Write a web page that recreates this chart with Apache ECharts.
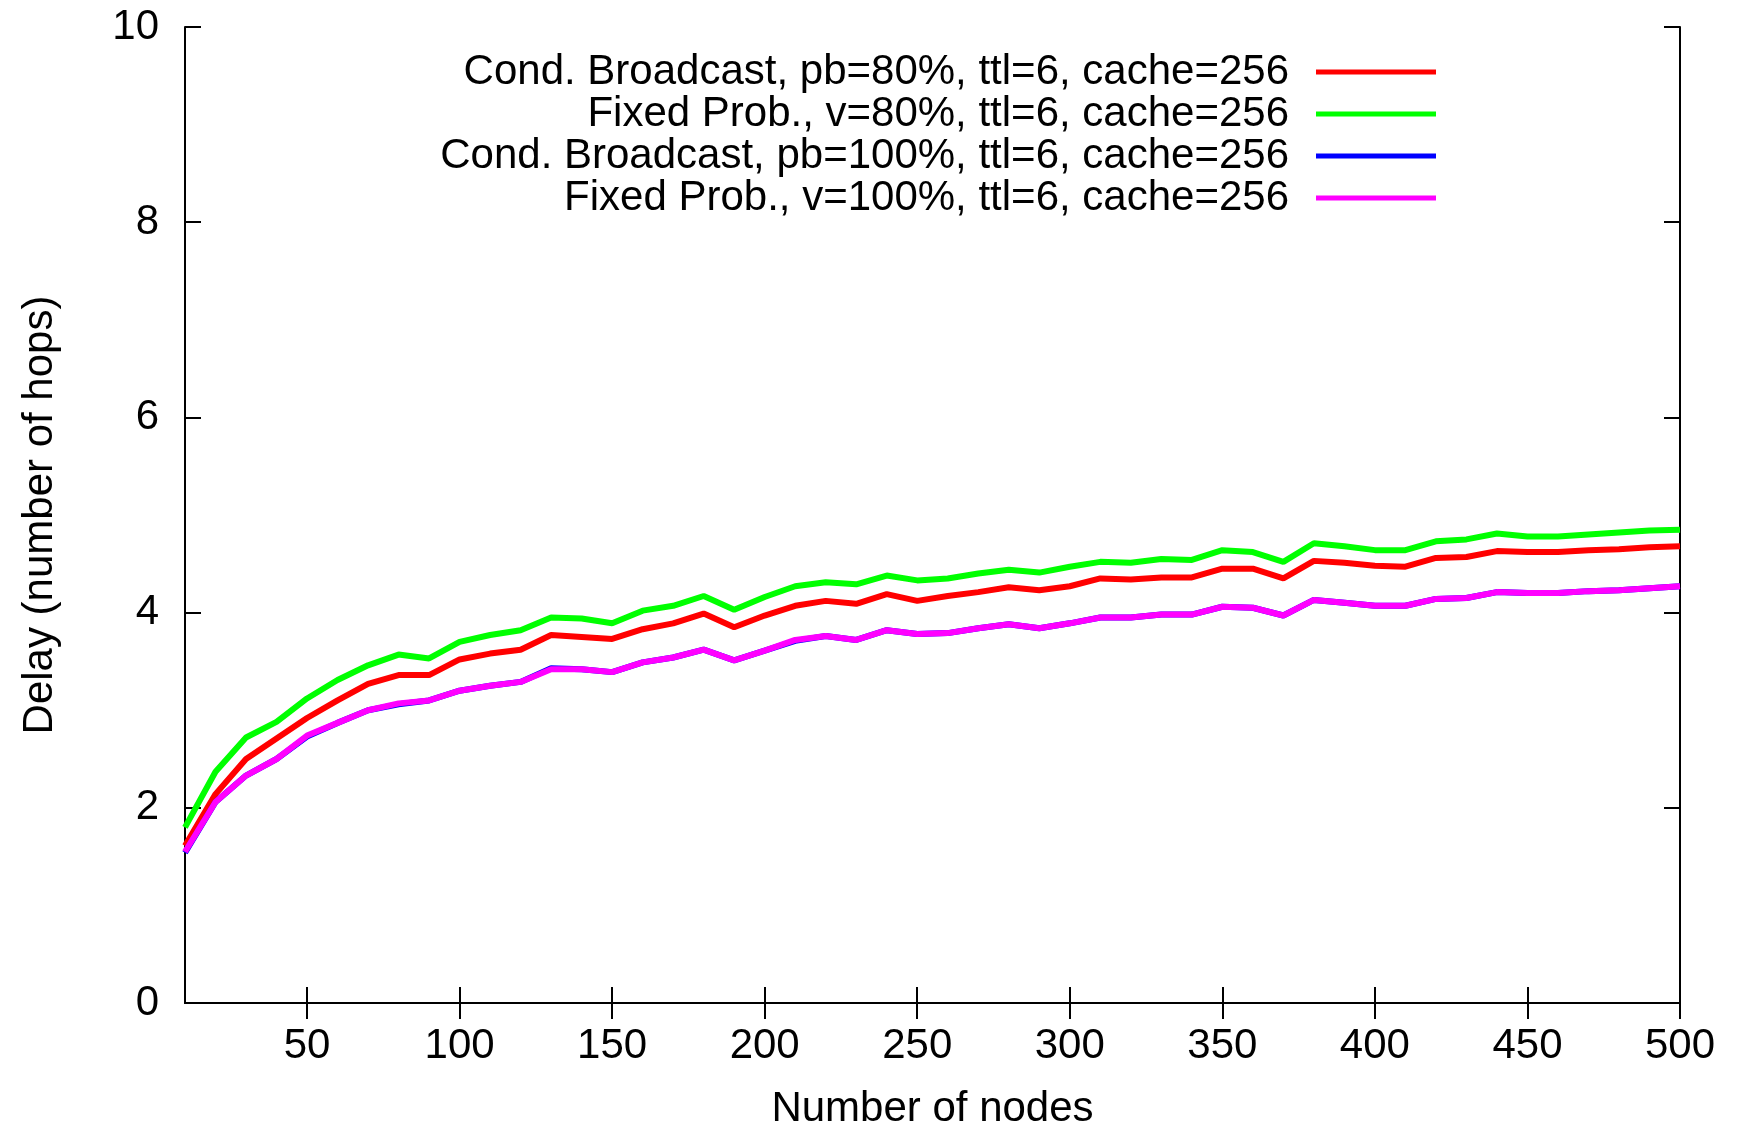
<!DOCTYPE html>
<html lang="en">
<head>
    <meta charset="UTF-8">
    <title>Delay vs number of nodes</title>
    <script src="https://cdn.jsdelivr.net/npm/echarts@6/dist/echarts.min.js"></script>
    <style>
        html, body { margin: 0; padding: 0; background: #fff; }
    </style>
</head>
<body>
<div id="myLineContainer" style="width: 1739px; height: 1129px;"></div>
<script type="text/javascript">
    // number of nodes, 10..500 step 10
    var nodes = [10, 20, 30, 40, 50, 60, 70, 80, 90, 100,
        110, 120, 130, 140, 150, 160, 170, 180, 190, 200,
        210, 220, 230, 240, 250, 260, 270, 280, 290, 300,
        310, 320, 330, 340, 350, 360, 370, 380, 390, 400,
        410, 420, 430, 440, 450, 460, 470, 480, 490, 500];

    var condBroadcast80 = [1.61, 2.14, 2.50, 2.71, 2.92, 3.10, 3.27, 3.36, 3.36, 3.52,
        3.58, 3.62, 3.77, 3.75, 3.73, 3.83, 3.89, 3.99, 3.85, 3.97,
        4.07, 4.12, 4.09, 4.19, 4.12, 4.17, 4.21, 4.26, 4.23, 4.27,
        4.35, 4.34, 4.36, 4.36, 4.45, 4.45, 4.35, 4.53, 4.51, 4.48,
        4.47, 4.56, 4.57, 4.63, 4.62, 4.62, 4.64, 4.65, 4.67, 4.68];

    var fixedProb80 = [1.80, 2.37, 2.72, 2.88, 3.12, 3.31, 3.46, 3.57, 3.53, 3.70,
        3.77, 3.82, 3.95, 3.94, 3.89, 4.02, 4.07, 4.17, 4.03, 4.16,
        4.27, 4.31, 4.29, 4.38, 4.33, 4.35, 4.40, 4.44, 4.41, 4.47,
        4.52, 4.51, 4.55, 4.54, 4.64, 4.62, 4.52, 4.71, 4.68, 4.64,
        4.64, 4.73, 4.75, 4.81, 4.78, 4.78, 4.80, 4.82, 4.84, 4.85];

    var condBroadcast100 = [1.54, 2.06, 2.33, 2.50, 2.73, 2.87, 3.00, 3.06, 3.10, 3.20,
        3.25, 3.29, 3.43, 3.42, 3.39, 3.49, 3.54, 3.62, 3.51, 3.61,
        3.71, 3.76, 3.72, 3.82, 3.78, 3.79, 3.84, 3.88, 3.84, 3.89,
        3.95, 3.95, 3.98, 3.98, 4.06, 4.05, 3.97, 4.13, 4.10, 4.07,
        4.07, 4.14, 4.15, 4.21, 4.20, 4.20, 4.22, 4.23, 4.25, 4.27];

    var fixedProb100 = [1.55, 2.06, 2.33, 2.50, 2.74, 2.87, 3.00, 3.07, 3.10, 3.20,
        3.25, 3.29, 3.42, 3.42, 3.39, 3.49, 3.54, 3.62, 3.51, 3.61,
        3.72, 3.76, 3.72, 3.82, 3.78, 3.79, 3.84, 3.88, 3.84, 3.89,
        3.95, 3.95, 3.98, 3.98, 4.06, 4.05, 3.97, 4.13, 4.10, 4.07,
        4.07, 4.14, 4.15, 4.21, 4.20, 4.20, 4.22, 4.23, 4.25, 4.27];

    var seriesNames = [
        'Cond. Broadcast, pb=80%, ttl=6, cache=256',
        'Fixed Prob., v=80%, ttl=6, cache=256',
        'Cond. Broadcast, pb=100%, ttl=6, cache=256',
        'Fixed Prob., v=100%, ttl=6, cache=256'
    ];
    var seriesColors = ['#ff0000', '#00ff00', '#0000ff', '#ff00ff'];

    var xTickLabels = [50, 100, 150, 200, 250, 300, 350, 400, 450, 500];
    var yTickLabels = [0, 2, 4, 6, 8, 10];

    var font = 'Liberation Sans';
    var fontSize = 42;

    function pairs(ys) {
        return nodes.map(function (x, i) { return [x, ys[i]]; });
    }

    var allData = [condBroadcast80, fixedProb80, condBroadcast100, fixedProb100];

    var series = allData.map(function (d, i) {
        return {
            name: seriesNames[i],
            type: 'line',
            data: pairs(d),
            showSymbol: false,
            symbol: 'none',
            animation: false,
            lineStyle: { color: seriesColors[i], width: 6 },
            itemStyle: { color: seriesColors[i] }
        };
    });

    // one legend per entry so icons line up at the right and text is right aligned
    var legendTops = [51, 93, 135, 177];
    var legends = seriesNames.map(function (name, i) {
        return {
            data: [name],
            right: 303,
            top: legendTops[i],
            padding: 0,
            align: 'right',
            icon: 'rect',
            itemWidth: 120,
            itemHeight: 5,
            selectedMode: false,
            textStyle: {
                fontFamily: font,
                fontSize: fontSize,
                color: '#000',
                lineHeight: 42,
                padding: [0, 22, 0, 0]
            }
        };
    });

    var axisLineStyle = { lineStyle: { color: '#000', width: 2 } };

    var option = {
        animation: false,
        backgroundColor: '#fff',
        legend: legends,
        grid: {
            left: 185,
            right: 59,
            top: 27,
            bottom: 126,
            outerBoundsMode: 'none'
        },
        xAxis: [
            {
                type: 'value',
                min: 10,
                max: 500,
                name: 'Number of nodes',
                nameLocation: 'middle',
                nameGap: 85,
                nameTextStyle: { fontFamily: font, fontSize: fontSize, color: '#000' },
                axisLine: axisLineStyle,
                axisTick: { inside: true, length: 16, lineStyle: { color: '#000', width: 2 }, customValues: xTickLabels },
                axisLabel: { fontFamily: font, fontSize: fontSize, color: '#000', margin: 22, customValues: xTickLabels },
                splitLine: { show: false }
            },
            {
                type: 'value',
                position: 'top',
                min: 10,
                max: 500,
                axisLine: axisLineStyle,
                axisTick: { inside: true, length: 16, lineStyle: { color: '#000', width: 2 }, customValues: xTickLabels },
                axisLabel: { show: false },
                splitLine: { show: false }
            }
        ],
        yAxis: [
            {
                type: 'value',
                min: 0,
                max: 10,
                interval: 2,
                name: 'Delay (number of hops)',
                nameLocation: 'middle',
                nameGap: 124,
                nameTextStyle: { fontFamily: font, fontSize: fontSize, color: '#000' },
                axisLine: { show: true, lineStyle: { color: '#000', width: 2 } },
                axisTick: { show: true, inside: true, length: 16, lineStyle: { color: '#000', width: 2 }, customValues: yTickLabels },
                axisLabel: { fontFamily: font, fontSize: fontSize, color: '#000', margin: 26, customValues: yTickLabels },
                splitLine: { show: false }
            },
            {
                type: 'value',
                position: 'right',
                min: 0,
                max: 10,
                interval: 2,
                axisLine: { show: true, lineStyle: { color: '#000', width: 2 } },
                axisTick: { show: true, inside: true, length: 16, lineStyle: { color: '#000', width: 2 }, customValues: yTickLabels },
                axisLabel: { show: false },
                splitLine: { show: false }
            }
        ],
        series: series
    };

    var myChart = echarts.init(document.getElementById('myLineContainer'));
    myChart.setOption(option);
</script>
</body>
</html>
